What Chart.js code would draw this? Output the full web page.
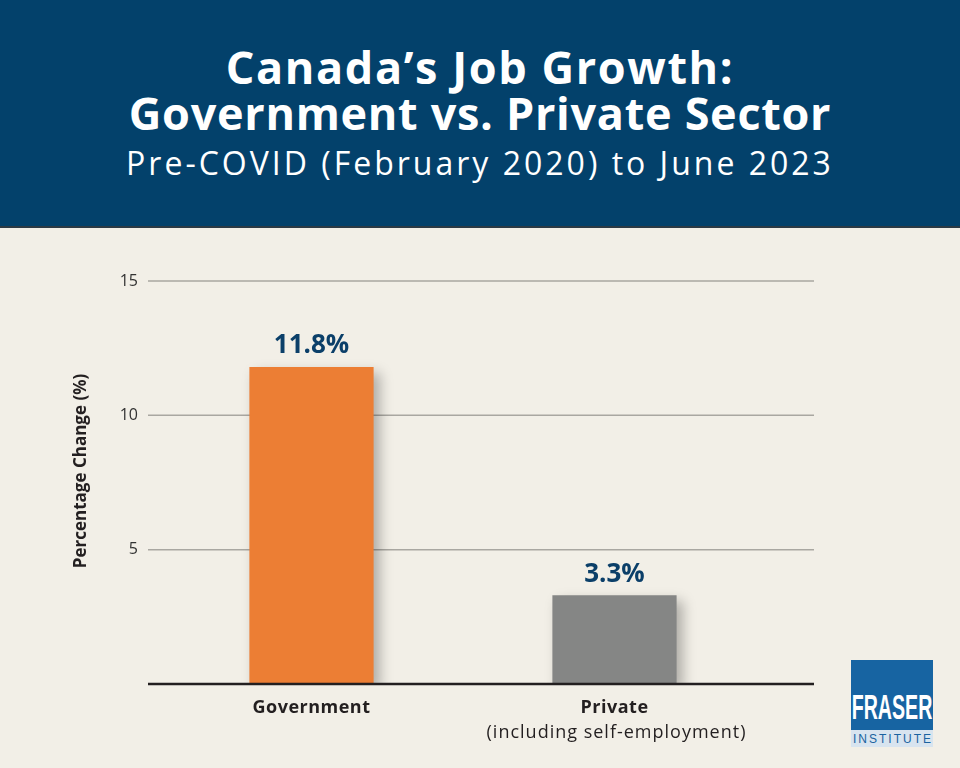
<!DOCTYPE html>
<html lang="en">
<head>
<meta charset="UTF-8">
<title>Canada's Job Growth</title>
<script src="https://cdn.jsdelivr.net/npm/chart.js@4.4.0/dist/chart.umd.min.js"></script>
<style>
  html, body { margin: 0; padding: 0; }
  body { width: 960px; height: 768px; background: #f2efe7; position: relative; overflow: hidden; font-family: "Open Sans", sans-serif; }
  .header { position: absolute; left: 0; top: 0; width: 960px; height: 226px; background: #03416b; border-bottom: 2px solid #2c3a44; color: #fff; text-align: center; }
  .header h1 { margin: 0; position: absolute; top: 44px; width: 100%; font-size: 45px; line-height: 46px; font-weight: 700; letter-spacing: 0.7px; }
  .header h1 .l1 { letter-spacing: 1.6px; }
  .header h2 { margin: 0; position: absolute; top: 145px; width: 100%; font-size: 32px; line-height: 36px; font-weight: 400; letter-spacing: 3px; }
  #chart { position: absolute; left: 0; top: 0; }
  .logo { position: absolute; left: 851px; top: 660px; width: 82px; }
  .logo .top { height: 70px; background: #1764a2; color: #fff; position: relative; overflow: hidden; }
  .logo .top span { position: absolute; left: -50px; width: 182px; top: 29px; text-align: center; white-space: nowrap; font-family: "Liberation Sans Narrow", "Liberation Sans", sans-serif; font-weight: 700; font-size: 35px; line-height: 35px; transform: scaleX(0.56); transform-origin: center; }
  .logo .bot { height: 17px; background: #d8e4ef; color: #1b63a0; text-align: center; font-family: "Liberation Sans", sans-serif; font-size: 12px; line-height: 18px; letter-spacing: 2px; padding-left: 2px; }
</style>
</head>
<body>
  <div class="header">
    <h1><span class="l1">Canada’s Job Growth:</span><br>Government vs. Private Sector</h1>
    <h2>Pre-COVID (February 2020) to June 2023</h2>
  </div>
  <canvas id="chart" width="960" height="768"></canvas>
  <div class="logo">
    <div class="top"><span>FRASER</span></div>
    <div class="bot">INSTITUTE</div>
  </div>
<script>
  const categories = ["Government", "Private"];
  const subLabels = ["", "(including self-employment)"];
  const values = [11.8, 3.3];
  const barColors = ["#ec7e34", "#858685"];
  const yTicks = [5, 10, 15];
  const yTitle = "Percentage Change (%)";

  // grid lines run past the category area, so draw them by hand from the y scale
  const gridPlugin = {
    id: "grid",
    beforeDatasetsDraw(chart) {
      const ctx = chart.ctx;
      const y = chart.scales.y;
      ctx.save();
      ctx.strokeStyle = "#a9a7a1";
      ctx.lineWidth = 1.5;
      yTicks.forEach(v => {
        const py = y.getPixelForValue(v);
        ctx.beginPath();
        ctx.moveTo(148, py);
        ctx.lineTo(814, py);
        ctx.stroke();
      });
      // axis title
      ctx.translate(81, 471);
      ctx.rotate(-Math.PI / 2);
      ctx.fillStyle = "#231f20";
      ctx.font = "700 17px 'Open Sans', sans-serif";
      ctx.textAlign = "center";
      ctx.textBaseline = "middle";
      ctx.fillText(yTitle, 0, 0);
      ctx.restore();
    },
    afterDatasetsDraw(chart) {
      const ctx = chart.ctx;
      const y = chart.scales.y;
      const x = chart.scales.x;
      const py = y.getPixelForValue(0);
      ctx.save();
      ctx.strokeStyle = "#231f20";
      ctx.lineWidth = 2.5;
      ctx.beginPath();
      ctx.moveTo(148, py);
      ctx.lineTo(814, py);
      ctx.stroke();

      // value labels
      const meta = chart.getDatasetMeta(0);
      ctx.fillStyle = "#0b3f69";
      ctx.font = "700 26px 'Open Sans', sans-serif";
      ctx.textAlign = "center";
      ctx.textBaseline = "middle";
      meta.data.forEach((bar, i) => {
        ctx.fillText(values[i].toFixed(1) + "%", bar.x, bar.y - 21);
      });

      // category labels
      ctx.fillStyle = "#231f20";
      categories.forEach((c, i) => {
        const px = x.getPixelForValue(i);
        ctx.font = "700 18px 'Open Sans', sans-serif";
        ctx.letterSpacing = "0.5px";
        ctx.fillText(c, px, py + 24);
        if (subLabels[i]) {
          ctx.font = "400 18px 'Open Sans', sans-serif";
          ctx.letterSpacing = "1px";
          ctx.fillText(subLabels[i], px + 2, py + 49);
        }
      });
      ctx.restore();
    }
  };

  const shadowPlugin = {
    id: "barShadow",
    beforeDatasetDraw(chart) {
      const ctx = chart.ctx;
      ctx.save();
      ctx.shadowColor = "rgba(0,0,0,0.28)";
      ctx.shadowBlur = 12;
      ctx.shadowOffsetX = 6;
      ctx.shadowOffsetY = 6;
    },
    afterDatasetDraw(chart) {
      chart.ctx.restore();
    }
  };

  new Chart("chart", {
    type: "bar",
    data: {
      labels: categories,
      datasets: [{
        data: values,
        backgroundColor: barColors,
        borderWidth: 0,
        barPercentage: 1,
        categoryPercentage: 0.41
      }]
    },
    options: {
      responsive: false,
      animation: false,
      layout: { padding: { left: 70, right: 194, top: 281, bottom: 0 } },
      plugins: { legend: { display: false }, tooltip: { enabled: false } },
      scales: {
        x: {
          grid: { display: false, drawTicks: false },
          border: { display: false },
          ticks: { display: false },
          afterFit(scale) { scale.height = 84; }
        },
        y: {
          min: 0,
          max: 15,
          grid: { display: false, drawTicks: false },
          border: { display: false },
          ticks: {
            stepSize: 5,
            padding: 22,
            color: "#333",
            font: { family: "'Open Sans', sans-serif", size: 16 },
            callback: v => v === 0 ? "" : v
          },
          afterFit(scale) { scale.width = 90; }
        }
      }
    },
    plugins: [gridPlugin, shadowPlugin]
  });
</script>
</body>
</html>
